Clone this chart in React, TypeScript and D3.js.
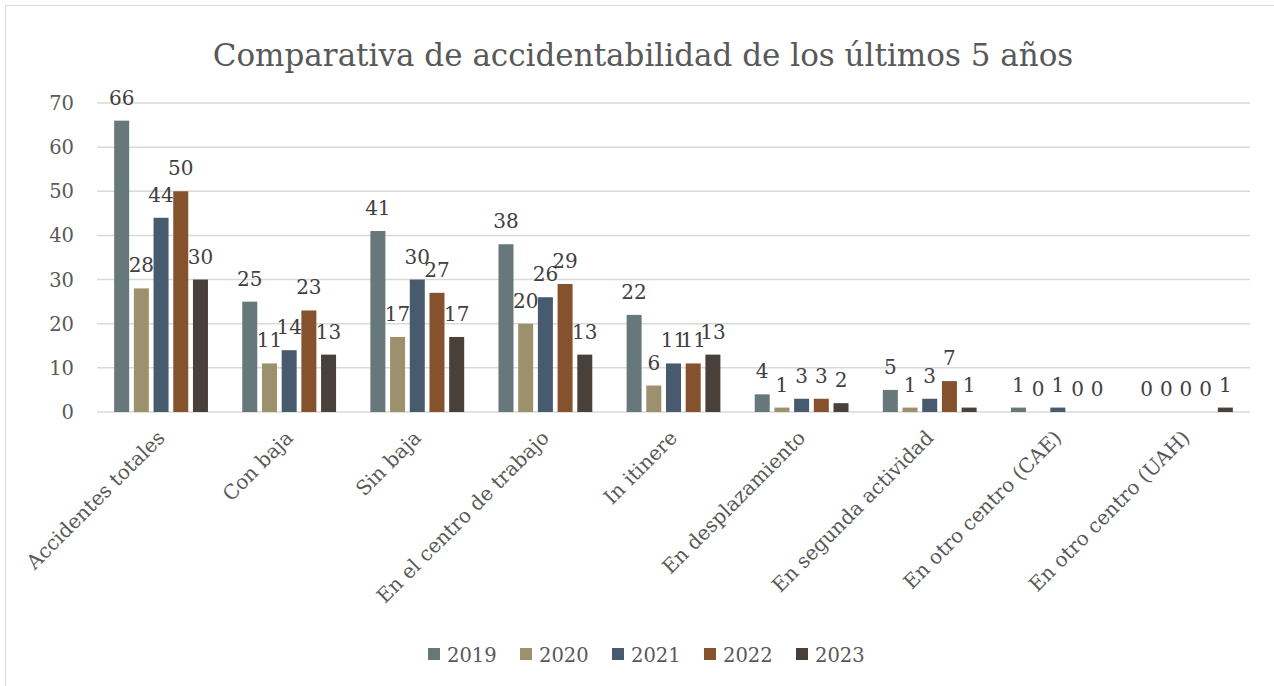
import React, { useEffect, useRef } from 'react';
import * as d3 from 'd3';

const categories = [
  'Accidentes totales',
  'Con baja',
  'Sin baja',
  'En el centro de trabajo',
  'In itinere',
  'En desplazamiento',
  'En segunda actividad',
  'En otro centro (CAE)',
  'En otro centro (UAH)',
];
const years = ['2019', '2020', '2021', '2022', '2023'];
const v2019 = [66, 25, 41, 38, 22, 4, 5, 1, 0];
const v2020 = [28, 11, 17, 20, 6, 1, 1, 0, 0];
const v2021 = [44, 14, 30, 26, 11, 3, 3, 1, 0];
const v2022 = [50, 23, 27, 29, 11, 3, 7, 0, 0];
const v2023 = [30, 13, 17, 13, 13, 2, 1, 0, 1];
const yTicks = [0, 10, 20, 30, 40, 50, 60, 70];
const colors = ['#667879', '#9c916c', '#475a6e', '#86522e', '#4a403a'];

const W = 1274;
const H = 686;
const FONT = '"DejaVu Serif", serif';
const TEXT = '#595959';

const App = () => {
  const ref = useRef<SVGSVGElement>(null);

  useEffect(() => {
    const svg = d3.select(ref.current);
    svg.selectAll('*').remove();

    // chart border
    svg.append('rect')
      .attr('x', 5.5).attr('y', 5.5)
      .attr('width', W + 20).attr('height', H + 20)
      .attr('fill', '#fff').attr('stroke', '#d9d9d9');

    svg.append('text')
      .attr('x', 643).attr('y', 66)
      .attr('text-anchor', 'middle')
      .attr('font-family', FONT).attr('font-size', 31)
      .attr('fill', TEXT)
      .text('Comparativa de accidentabilidad de los últimos 5 años');

    const left = 97, right = 1250, top = 103, bottom = 412;
    const y = d3.scaleLinear().domain([0, 70]).range([bottom, top]);
    const x = d3.scaleBand().domain(categories).range([left, right]);
    const bw = 15, step = 19.7;

    const series = [v2019, v2020, v2021, v2022, v2023];
    const g = svg.append('g');

    // gridlines
    g.selectAll('line.grid')
      .data(yTicks)
      .join('line')
      .attr('x1', left).attr('x2', right)
      .attr('y1', d => y(d)).attr('y2', d => y(d))
      .attr('stroke', '#d9d9d9').attr('stroke-width', 1.5);

    g.selectAll('text.ytick')
      .data(yTicks)
      .join('text')
      .attr('x', 74).attr('y', d => y(d) + 7)
      .attr('text-anchor', 'end')
      .attr('font-family', FONT).attr('font-size', 19.5)
      .attr('fill', TEXT)
      .text(d => d);

    series.forEach((vals, si) => {
      const off = (si - 2) * step - bw / 2;
      g.selectAll(`rect.s${si}`)
        .data(vals)
        .join('rect')
        .attr('x', (d, i) => x(categories[i])! + x.bandwidth() / 2 + off)
        .attr('y', d => y(d))
        .attr('width', bw)
        .attr('height', d => bottom - y(d))
        .attr('fill', colors[si]);
      g.selectAll(`text.s${si}`)
        .data(vals)
        .join('text')
        .attr('x', (d, i) => x(categories[i])! + x.bandwidth() / 2 + off + bw / 2)
        .attr('y', d => y(d) - 16)
        .attr('text-anchor', 'middle')
        .attr('font-family', FONT).attr('font-size', 20)
        .attr('fill', '#404040')
        .text(d => d);
    });

    // x labels
    g.selectAll('text.xl')
      .data(categories)
      .join('text')
      .attr('transform', d => `translate(${x(d)! + x.bandwidth() / 2 + 5},${bottom + 27}) rotate(-45)`)
      .attr('text-anchor', 'end')
      .attr('font-family', FONT).attr('font-size', 20)
      .attr('fill', TEXT)
      .text(d => d);

    // legend
    const lg = svg.append('g');
    years.forEach((yr, i) => {
      const lx = 428 + i * 92;
      lg.append('rect')
        .attr('x', lx).attr('y', 648)
        .attr('width', 12).attr('height', 12)
        .attr('fill', colors[i]);
      lg.append('text')
        .attr('x', lx + 19).attr('y', 662)
        .attr('font-family', FONT).attr('font-size', 19.5)
        .attr('fill', TEXT)
        .text(yr);
    });
  }, []);

  return (
    <svg ref={ref} width={W} height={H} style={{ position: 'absolute', left: 0, top: 0 }} />
  );
};

export default App;
